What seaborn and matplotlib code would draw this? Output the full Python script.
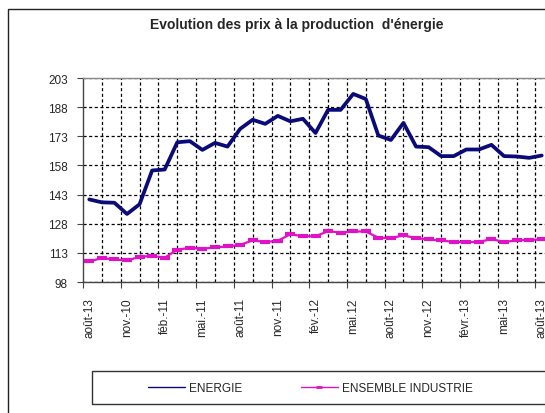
import matplotlib
matplotlib.use("Agg")
import matplotlib.pyplot as plt
from matplotlib.lines import Line2D
from matplotlib.patches import Rectangle
import numpy as np
import pandas as pd
import seaborn as sns

# ---- data -------------------------------------------------------------
title = "Evolution des prix à la production  d'énergie"
months_idx = list(range(37))  # monthly points, Aug 2010 .. Aug 2013
energie = [140.5, 139, 138.8, 133, 138, 155.4, 155.9, 169.9, 170.5, 166, 169.6, 167.7,
           176.8, 181.5, 179.4, 183.5, 180.7, 182, 174.7, 186.6, 186.6, 194.8, 192.2,
           173.4, 171.1, 179.9, 167.7, 167.4, 162.8, 162.8, 166.2, 166.2, 168.6,
           162.8, 162.6, 161.9, 163.1]
industrie = [108.6, 110.3, 109.6, 109.1, 110.9, 111.5, 110.5, 114.6, 115.6, 115.1, 115.8,
             116.3, 117.1, 119.4, 118.6, 119.2, 122.6, 121.5, 121.5, 124.2, 123.4, 124,
             124, 120.8, 120.6, 122, 120.6, 119.9, 119.4, 118.6, 118.6, 118.6, 120.1,
             118.6, 119.4, 119.7, 119.9]
tick_labels = ['août-13', 'nov.-10', 'féb.-11', 'mai.-11', 'août-11', 'nov.-11', 'fév.-12',
               'mai.12', 'août-12', 'nov.-12', 'févr.-13', 'mai-13', 'août-13']
yticks = [98, 113, 128, 143, 158, 173, 188, 203]
series_names = ['ENERGIE', 'ENSEMBLE INDUSTRIE']

df = pd.DataFrame({'mois': months_idx, 'ENERGIE': energie, 'ENSEMBLE INDUSTRIE': industrie})

# ---- style ------------------------------------------------------------
sns.set_theme(style="white")
plt.rcParams['font.family'] = ['Liberation Sans', 'DejaVu Sans']

W, H = 545, 414
fig = plt.figure(figsize=(W / 100, H / 100), dpi=100)
fig.patch.set_facecolor('white')

# outer chart border (cropped on right / bottom)
fig.patches.append(Rectangle((8 / W, -0.05), 1.2, (H - 10) / H + 0.05, transform=fig.transFigure,
                             fill=False, edgecolor='#222222', lw=1.0))

ax = fig.add_axes([83 / W, (H - 283) / H, 465 / W, 204 / H])
ax.set_facecolor('white')

navy = '#0a0a78'
magenta = '#e012c8'

sns.lineplot(data=df, x='mois', y='ENERGIE', ax=ax, color=navy, lw=2.7, zorder=5)
sns.lineplot(data=df, x='mois', y='ENSEMBLE INDUSTRIE', ax=ax, color=magenta, lw=1.6,
             marker='_', markersize=7, markeredgewidth=3, markeredgecolor=magenta, zorder=5)

ax.set_xlim(-0.5, 36.5)
ax.set_ylim(98, 203)

# y axis
ax.set_yticks(yticks)
ax.set_yticklabels([str(v) for v in yticks], fontsize=8.5)
ax.yaxis.grid(True, color='black', lw=0.9, ls=(0, (2.5, 2)))
ax.tick_params(axis='y', which='major', length=4, width=0.8, color='#444444', pad=7, left=True)

# x axis: labels at every 3rd month, tick marks between categories, grid every 1.5 months
ax.set_xticks(months_idx[::3])
ax.set_xticklabels(tick_labels, rotation=90, fontsize=8.5, va='top', ha='center')
ax.tick_params(axis='x', which='major', length=0, pad=11)
ax.set_xticks([m - 0.5 for m in months_idx[::3]], minor=True)
ax.tick_params(axis='x', which='minor', length=4, width=0.8, color='#444444', bottom=True)
for k in range(1, 25):
    ax.axvline(-0.5 + 1.5 * k, color='black', lw=0.9, ls=(0, (2.5, 2)), zorder=1)

ax.set_xlabel('')
ax.set_ylabel('')
for s in ['left', 'bottom']:
    ax.spines[s].set_color('#444444')
    ax.spines[s].set_linewidth(1.0)
ax.spines['top'].set_color('#888888')
ax.spines['top'].set_linewidth(1.0)
ax.spines['right'].set_visible(False)

# title
fig.text(297 / W, 1 - 25 / H, title, ha='center', va='center', fontsize=10, fontweight='bold')

# legend
handles = [Line2D([], [], color=navy, lw=1.0),
           Line2D([], [], color=magenta, lw=1.0, marker='_', markersize=4, markeredgewidth=2)]
fig.legend(handles, series_names, loc='center left', bbox_to_anchor=(148 / W, 1 - 389 / H),
           ncol=2, frameon=False, fontsize=8.5, handlelength=3.1, handletextpad=0.35,
           columnspacing=5.0, borderpad=0, borderaxespad=0)
fig.patches.append(Rectangle((92 / W, (H - 405) / H), 1.0, 33 / H, transform=fig.transFigure,
                             fill=False, edgecolor='#333333', lw=1.0))

fig.savefig('out.png', dpi=100, facecolor='white')
